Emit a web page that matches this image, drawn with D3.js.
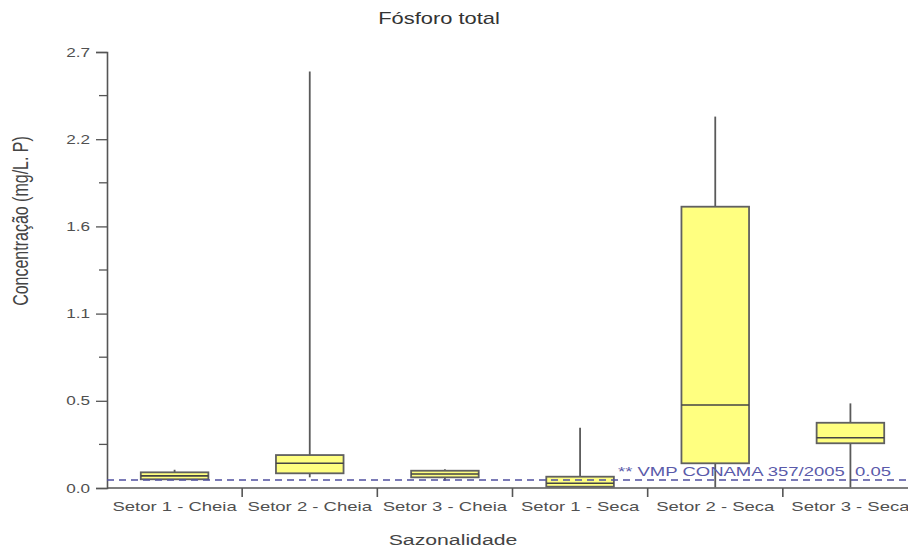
<!DOCTYPE html>
<html>
<head>
<meta charset="utf-8">
<script src="https://cdn.jsdelivr.net/npm/d3@7"></script>
<style>
  html, body { margin: 0; padding: 0; background: #fff; }
  svg text { font-family: Arial, "Liberation Sans", sans-serif; white-space: pre; }
</style>
</head>
<body>
<svg id="chart" width="908" height="548"></svg>
<script>
// Fósforo total por setor e período (mg/L P)
const categories = ["Setor 1 - Cheia", "Setor 2 - Cheia", "Setor 3 - Cheia",
                    "Setor 1 - Seca", "Setor 2 - Seca", "Setor 3 - Seca"];
const minVals    = [0.054, 0.066, 0.045, 0.008, 0.004, 0.004];
const q1Vals     = [0.054, 0.091, 0.066, 0.008, 0.153, 0.277];
const medianVals = [0.075, 0.153, 0.087, 0.029, 0.514, 0.311];
const q3Vals     = [0.097, 0.204, 0.107, 0.070, 1.742, 0.404];
const maxVals    = [0.113, 2.58, 0.116, 0.373, 2.30, 0.524];
const yTickValues = [0, 0.54, 1.08, 1.62, 2.16, 2.7];
const yMinorTicks = [0.27, 0.81, 1.35, 1.89, 2.43];
const limitValue = 0.05;
const limitLabel = "** VMP CONAMA 357/2005  0.05";

const svg = d3.select("#chart");
const plotLeft = 107, plotRight = 918, plotTop = 52, plotBottom = 488;
const sx = 1.37; // horizontal stretch of the lettering

const x = d3.scaleBand().domain(categories).range([plotLeft, plotRight]).padding(0);
const y = d3.scaleLinear().domain([0, 2.7]).range([plotBottom, plotTop]);

const axisColor = "#555";
const textColor = "#505050";

// stretched text helper
function label(g, tx, ty, txt, size, anchor, color) {
  return g.append("text")
    .attr("transform", `translate(${tx},${ty}) scale(${sx},1)`)
    .attr("text-anchor", anchor)
    .attr("font-size", size)
    .attr("fill", color)
    .attr("xml:space", "preserve")
    .text(txt);
}

// title
label(svg, 439, 24, "Fósforo total", 16, "middle", "#333");

// y axis
const yAxis = d3.axisLeft(y).tickValues(yTickValues).tickSize(11).tickFormat(d3.format(".1f"));
const gy = svg.append("g").attr("transform", `translate(${plotLeft},0)`).call(yAxis);
gy.select(".domain").attr("stroke", axisColor).attr("stroke-width", 1.6);
gy.selectAll(".tick line").attr("stroke", axisColor).attr("stroke-width", 1.3);
gy.selectAll(".tick text").remove();
yTickValues.forEach(v => {
  label(svg, plotLeft - 17, y(v) + 4.5, d3.format(".1f")(v), 12.5, "end", textColor);
});
svg.append("g").selectAll("line").data(yMinorTicks).join("line")
  .attr("x1", plotLeft - 8).attr("x2", plotLeft)
  .attr("y1", d => y(d)).attr("y2", d => y(d))
  .attr("stroke", axisColor).attr("stroke-width", 1.3);

// x axis
svg.append("line")
  .attr("x1", plotLeft).attr("x2", 908).attr("y1", plotBottom).attr("y2", plotBottom)
  .attr("stroke", axisColor).attr("stroke-width", 1.6);
const bounds = categories.slice(1).map(c => x(c));
svg.append("g").selectAll("line").data(bounds).join("line")
  .attr("x1", d => d).attr("x2", d => d)
  .attr("y1", plotBottom).attr("y2", plotBottom + 9)
  .attr("stroke", axisColor).attr("stroke-width", 1.6);
categories.forEach(c => {
  label(svg, x(c) + x.bandwidth() / 2, 511, c, 13.5, "middle", textColor);
});

// axis titles
label(svg, 453, 545, "Sazonalidade", 15.5, "middle", "#444");
svg.append("text")
  .attr("transform", `translate(28,221) rotate(-90) scale(1,${sx})`)
  .attr("text-anchor", "middle")
  .attr("font-size", 16)
  .attr("fill", "#444")
  .text("Concentração (mg/L. P)");

// boxes
const boxW = x.bandwidth() * 0.5;
const boxes = svg.append("g");
categories.forEach((c, i) => {
  const cx = x(c) + x.bandwidth() / 2;
  const g = boxes.append("g");
  g.append("line").attr("x1", cx).attr("x2", cx)
    .attr("y1", y(maxVals[i])).attr("y2", y(q3Vals[i]))
    .attr("stroke", "#5a5a5a").attr("stroke-width", 1.8);
  g.append("line").attr("x1", cx).attr("x2", cx)
    .attr("y1", y(q1Vals[i])).attr("y2", y(minVals[i]))
    .attr("stroke", "#5a5a5a").attr("stroke-width", 1.8);
  g.append("rect")
    .attr("x", cx - boxW / 2).attr("width", boxW)
    .attr("y", y(q3Vals[i])).attr("height", y(q1Vals[i]) - y(q3Vals[i]))
    .attr("fill", "#ffff80").attr("stroke", "#606060").attr("stroke-width", 1.8);
  g.append("line")
    .attr("x1", cx - boxW / 2).attr("x2", cx + boxW / 2)
    .attr("y1", y(medianVals[i])).attr("y2", y(medianVals[i]))
    .attr("stroke", "#444").attr("stroke-width", 1.6);
});

// reference limit
svg.append("line")
  .attr("x1", plotLeft).attr("x2", 908)
  .attr("y1", y(limitValue)).attr("y2", y(limitValue))
  .attr("stroke", "#5050a0").attr("stroke-width", 1.4)
  .attr("stroke-dasharray", "7,5");
label(svg, 618, 476, limitLabel, 13.5, "start", "#5a5aaa");
</script>
</body>
</html>
